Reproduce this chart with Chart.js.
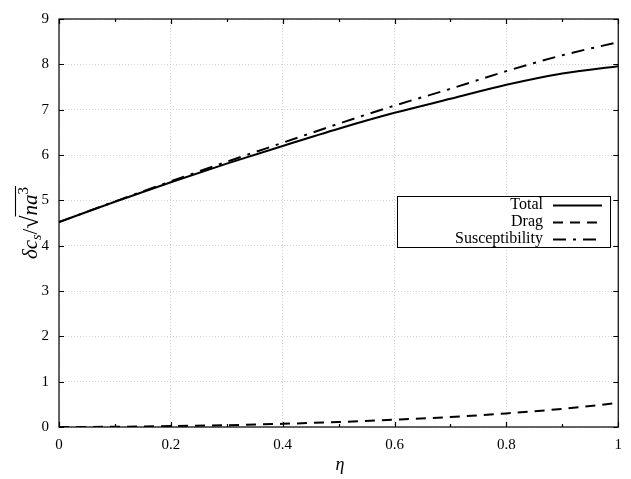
<!DOCTYPE html>
<html>
<head>
<meta charset="utf-8">
<script src="https://cdn.jsdelivr.net/npm/chart.js@4.4.1/dist/chart.umd.min.js"></script>
<style>
  html, body { margin: 0; padding: 0; background: #fff; }
  #wrap { width: 631px; height: 479px; }
</style>
</head>
<body>
<div id="wrap"><canvas id="chart"></canvas></div>
<script>
// values
const etaValues = [0, 0.1, 0.2, 0.3, 0.4, 0.5, 0.6, 0.7, 0.8, 0.9, 1.0];
const totalValues = [4.52, 4.97, 5.40, 5.81, 6.20, 6.58, 6.93, 7.24, 7.55, 7.80, 7.96];
const dragValues = [0.0, 0.005, 0.02, 0.04, 0.07, 0.11, 0.16, 0.22, 0.30, 0.40, 0.53];
const suscValues = [4.52, 4.975, 5.42, 5.85, 6.27, 6.69, 7.09, 7.46, 7.85, 8.20, 8.49];
const xTicks = [0, 0.2, 0.4, 0.6, 0.8, 1];
const yTicks = [0, 1, 2, 3, 4, 5, 6, 7, 8, 9];

const SERIF = "'Liberation Serif', 'DejaVu Serif', serif";

function pts(ys) {
  return etaValues.map((x, i) => ({ x: x, y: ys[i] }));
}

// frame, inward ticks, legend box and axis titles
const decorPlugin = {
  id: "decor",
  afterDraw(chart) {
    const ctx = chart.ctx;
    const a = chart.chartArea;
    const xs = chart.scales.x;
    const ys = chart.scales.y;
    ctx.save();
    ctx.strokeStyle = "#000";
    ctx.lineWidth = 1.2;
    ctx.strokeRect(a.left, a.top, a.right - a.left, a.bottom - a.top);

    ctx.beginPath();
    for (let v = 0; v <= 1.0001; v += 0.1) {
      const px = Math.round(xs.getPixelForValue(v)) + 0.5;
      const major = Math.abs(v * 5 - Math.round(v * 5)) < 1e-6;
      const len = major ? 5 : 3;
      ctx.moveTo(px, a.bottom); ctx.lineTo(px, a.bottom - len);
      ctx.moveTo(px, a.top); ctx.lineTo(px, a.top + len);
    }
    yTicks.forEach((v) => {
      const py = Math.round(ys.getPixelForValue(v)) + 0.5;
      ctx.moveTo(a.left, py); ctx.lineTo(a.left + 5, py);
      ctx.moveTo(a.right, py); ctx.lineTo(a.right - 5, py);
    });
    ctx.stroke();

    // legend
    const lx = 397, ly = 196, lw = 213, lh = 51;
    ctx.fillStyle = "#fff";
    ctx.fillRect(lx, ly, lw, lh);
    ctx.lineWidth = 1;
    ctx.strokeRect(lx + 0.5, ly + 0.5, lw, lh);
    ctx.font = "16px " + SERIF;
    ctx.textAlign = "right";
    ctx.textBaseline = "middle";
    chart.data.datasets.forEach((ds, i) => {
      const ry = ly + 9 + i * 17;
      ctx.fillStyle = "#000";
      ctx.fillText(ds.label, 543, ry);
      ctx.beginPath();
      ctx.setLineDash(ds.borderDash || []);
      ctx.lineWidth = ds.borderWidth;
      ctx.moveTo(553, ry + 0.5);
      ctx.lineTo(602, ry + 0.5);
      ctx.stroke();
      ctx.setLineDash([]);
    });

    // x title
    ctx.fillStyle = "#000";
    ctx.textAlign = "center";
    ctx.textBaseline = "alphabetic";
    ctx.font = "italic 18px " + SERIF;
    ctx.fillText("η", 340, 470);

    // y title: δc_s / sqrt(n a^3)
    ctx.translate(30, 223);
    ctx.rotate(-Math.PI / 2);
    const big = "italic 21px " + SERIF;
    const small = "italic 14px " + SERIF;
    const up = "15px " + SERIF;
    const parts = [
      { t: "δc", f: big, dy: 0 },
      { t: "s", f: small, dy: 4 },
      { t: "/", f: "21px " + SERIF, dy: 0 },
      { t: "√", f: "24px " + SERIF, dy: 1 },
      { t: "na", f: big, dy: 0, under: true },
      { t: "3", f: up, dy: -9, under: true }
    ];
    let total = 0;
    parts.forEach((p) => { ctx.font = p.f; p.w = ctx.measureText(p.t).width; total += p.w; });
    let cx = -total / 2;
    let barStart = null, barEnd = null;
    ctx.textAlign = "left";
    ctx.textBaseline = "alphabetic";
    parts.forEach((p) => {
      ctx.font = p.f;
      ctx.fillText(p.t, cx, 7 + p.dy);
      if (p.under) {
        if (barStart === null) barStart = cx;
        barEnd = cx + p.w;
      }
      cx += p.w;
    });
    ctx.beginPath();
    ctx.lineWidth = 1.1;
    ctx.moveTo(barStart - 1, -14.5);
    ctx.lineTo(barEnd + 1, -14.5);
    ctx.stroke();
    ctx.restore();
  }
};

const ctx = document.getElementById("chart").getContext("2d");
new Chart(ctx, {
  type: "line",
  data: {
    datasets: [
      {
        label: "Total",
        data: pts(totalValues),
        borderColor: "#000",
        borderWidth: 2,
        pointRadius: 0,
        cubicInterpolationMode: "monotone",
        fill: false
      },
      {
        label: "Drag",
        data: pts(dragValues),
        borderColor: "#000",
        borderWidth: 2,
        borderDash: [10, 7],
        pointRadius: 0,
        cubicInterpolationMode: "monotone",
        fill: false
      },
      {
        label: "Susceptibility",
        data: pts(suscValues),
        borderColor: "#000",
        borderWidth: 2,
        borderDash: [13, 7, 3, 7],
        pointRadius: 0,
        cubicInterpolationMode: "monotone",
        fill: false
      }
    ]
  },
  options: {
    responsive: true,
    maintainAspectRatio: false,
    animation: false,
    layout: { padding: { top: 15, right: 11, left: 0, bottom: 0 } },
    plugins: { legend: { display: false }, tooltip: { enabled: false } },
    scales: {
      x: {
        type: "linear",
        min: 0,
        max: 1,
        afterFit: (s) => { s.height = 52; },
        afterBuildTicks: (s) => { s.ticks = xTicks.map((v) => ({ value: v })); },
        border: { display: false, dash: [1, 2] },
        grid: { color: "#d4d4d4", lineWidth: 1, drawTicks: false },
        ticks: {
          padding: 9,
          color: "#000",
          font: { family: SERIF, size: 15 },
          callback: (v) => String(v)
        }
      },
      y: {
        type: "linear",
        min: 0,
        max: 9,
        afterFit: (s) => { s.width = 59; },
        afterBuildTicks: (s) => { s.ticks = yTicks.map((v) => ({ value: v })); },
        border: { display: false, dash: [1, 2] },
        grid: { color: "#d4d4d4", lineWidth: 1, drawTicks: false },
        ticks: {
          padding: 10,
          color: "#000",
          font: { family: SERIF, size: 15 },
          callback: (v) => String(v)
        }
      }
    }
  },
  plugins: [decorPlugin]
});
</script>
</body>
</html>
